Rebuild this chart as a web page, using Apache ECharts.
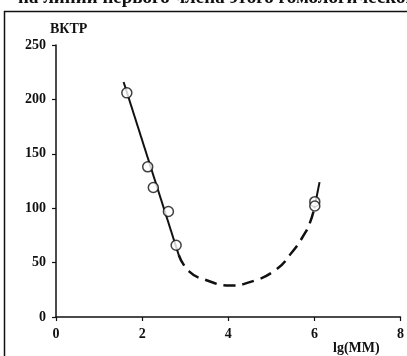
<!DOCTYPE html>
<html>
<head>
<meta charset="utf-8">
<script src="https://cdn.jsdelivr.net/npm/echarts@6/dist/echarts.min.js"></script>
<style>
  html, body { margin: 0; padding: 0; background: #fff; }
  #chart { width: 407px; height: 356px; }
</style>
</head>
<body>
<div id="chart"></div>
<script>
// Measured points: lg(MM) and ВКТР
const measuredX = [1.645, 2.13, 2.26, 2.61, 2.79, 6.01, 6.01];
const measuredY = [206, 138, 119, 97, 66, 106, 102];

// Solid regression line through the low-MM points
const fitX = [1.57, 2.85];
const fitY = [216, 57];

// Dashed extrapolation between the two regions
const dashX = [2.85, 3.09, 3.48, 4.05, 4.5, 5.09, 5.47, 5.78, 5.9, 6.0];
const dashY = [57, 42, 34, 29, 32, 43, 59, 77, 87, 100];

// Short solid piece above the high-MM points
const tailX = [6.0, 6.12];
const tailY = [100, 124];

// Axis ticks
const xTicks = { min: 0, max: 8, step: 2 };
const yTicks = { min: 0, max: 250, step: 50 };

const pairs = (xs, ys) => xs.map((x, i) => [x, ys[i]]);

const font = 'Liberation Serif, Times New Roman, serif';
const ink = '#111';

const chart = echarts.init(document.getElementById('chart'), null, { renderer: 'canvas' });

chart.setOption({
  backgroundColor: '#fff',
  animation: false,
  grid: { left: 56, right: 6, top: 45, bottom: 39 },
  xAxis: {
    type: 'value',
    min: xTicks.min, max: xTicks.max, interval: xTicks.step,
    axisLine: { lineStyle: { color: ink, width: 1.5 } },
    axisTick: { show: true, length: 4, lineStyle: { color: ink, width: 1.2 } },
    splitLine: { show: false },
    axisLabel: { color: ink, fontFamily: font, fontWeight: 'bold', fontSize: 14, margin: 10 }
  },
  yAxis: {
    type: 'value',
    min: yTicks.min, max: yTicks.max, interval: yTicks.step,
    name: 'ВКТР',
    nameLocation: 'end',
    nameGap: 9,
    nameTextStyle: { color: ink, fontFamily: font, fontWeight: 'bold', fontSize: 14, align: 'left', padding: [0, 0, 0, -6] },
    axisLine: { show: true, lineStyle: { color: ink, width: 1.5 } },
    axisTick: { show: true, length: 4, lineStyle: { color: ink, width: 1.2 } },
    splitLine: { show: false },
    axisLabel: { color: ink, fontFamily: font, fontWeight: 'bold', fontSize: 14, margin: 10 }
  },
  graphic: [
    // page frame around the figure
    { type: 'line', shape: { x1: 4.5, y1: 11, x2: 4.5, y2: 356 }, style: { stroke: ink, lineWidth: 1.5 } },
    { type: 'line', shape: { x1: 4, y1: 11.5, x2: 407, y2: 11.5 }, style: { stroke: ink, lineWidth: 1.5 } },
    // running text from the page, clipped at the top edge
    { type: 'text', left: 18, top: -11,
      style: { text: 'на линии первого члена этого гомологического ряда', fill: ink,
               font: 'bold 19px ' + font } },
    // x axis title
    { type: 'text', left: 333, top: 341,
      style: { text: 'lg(MM)', fill: ink, font: 'bold 14px ' + font } }
  ],
  series: [
    {
      type: 'line', data: pairs(fitX, fitY), symbol: 'none', silent: true,
      lineStyle: { color: ink, width: 2, type: 'solid' }, z: 2
    },
    {
      type: 'line', data: pairs(dashX, dashY), symbol: 'none', smooth: true, silent: true,
      lineStyle: { color: ink, width: 2.5, type: [12, 7] }, z: 2
    },
    {
      type: 'line', data: pairs(tailX, tailY), symbol: 'none', silent: true,
      lineStyle: { color: ink, width: 2, type: 'solid' }, z: 2
    },
    {
      type: 'scatter', data: pairs(measuredX, measuredY), symbol: 'circle', symbolSize: 10,
      itemStyle: { color: '#fff', borderColor: ink, borderWidth: 1.5 }, z: 5
    }
  ]
});
</script>
</body>
</html>
